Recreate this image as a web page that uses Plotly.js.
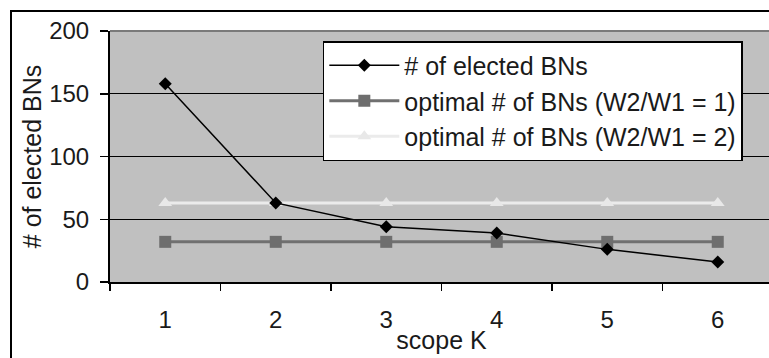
<!DOCTYPE html>
<html>
<head>
<meta charset="utf-8">
<script src="https://cdn.plot.ly/plotly-3.0.1.min.js"></script>
<style>
html,body{margin:0;padding:0;overflow:hidden;background:#fff;width:769px;height:358px;}
#chart{position:absolute;left:0;top:0;width:780px;height:358px;}
#frame{position:absolute;left:10px;top:10px;width:900px;height:500px;border-left:2px solid #000;border-top:2px solid #000;pointer-events:none;}
</style>
</head>
<body>
<div id="chart"></div>
<div id="frame"></div>
<script>
const scopeK = ['1','2','3','4','5','6'];
const electedBNs = [158, 63, 44, 39, 26, 16];
const optimalW1 = [32, 32, 32, 32, 32, 32];
const optimalW2 = [63, 63, 63, 63, 63, 63];
const seriesNames = ['# of elected BNs', 'optimal # of BNs (W2/W1 = 1)', 'optimal # of BNs (W2/W1 = 2)'];
const yTicks = [0, 50, 100, 150, 200];

const font = {family: 'Liberation Sans, Arial, sans-serif', size: 24, color: '#1a1a1a'};
const bigFont = {family: 'Liberation Sans, Arial, sans-serif', size: 25, color: '#1a1a1a'};

const traces = [
  {x: scopeK, y: electedBNs, name: seriesNames[0], legendgroup: 'a', mode: 'lines+markers',
   line: {color: '#000', width: 1.5}, marker: {symbol: 'diamond', size: 10, color: '#000'}},
  {x: scopeK, y: optimalW1, name: seriesNames[1], legendgroup: 'b', mode: 'lines+markers',
   line: {color: '#707070', width: 3}, marker: {symbol: 'square', size: 12, color: '#6e6e6e'}},
  {x: scopeK, y: optimalW2, name: seriesNames[2], legendgroup: 'c', mode: 'lines+markers',
   line: {color: '#ebebeb', width: 3}, marker: {symbol: 'triangle-up', size: 12, color: '#e8e8e8'}}
];
// draw order: light, gray, black on top
const ordered = [traces[2], traces[1], traces[0]];

const layout = {
  width: 780, height: 358,
  margin: {l: 110, r: 7, t: 31, b: 76},
  paper_bgcolor: '#fff', plot_bgcolor: '#c0c0c0',
  font: font,
  showlegend: true,
  legend: {
    x: 0.321, y: 0.96, xanchor: 'left', yanchor: 'top',
    bgcolor: '#fff', bordercolor: '#000', borderwidth: 1.5,
    font: bigFont, traceorder: 'reversed', tracegroupgap: 0, itemwidth: 70
  },
  xaxis: {
    type: 'category', range: [-0.5, 5.5], tickson: 'boundaries',
    ticks: 'outside', ticklen: 7, tickwidth: 1.5, tickcolor: '#000',
    showline: true, linecolor: '#000', linewidth: 2, showgrid: false, zeroline: false,
    ticklabelstandoff: 15,
    title: {text: 'scope K', font: bigFont, standoff: 0},
    automargin: false, fixedrange: true
  },
  yaxis: {
    range: [0, 200], tickvals: yTicks, ticktext: yTicks.map(String),
    ticks: 'outside', ticklen: 8, tickwidth: 1.5, tickcolor: '#000',
    showline: true, linecolor: '#000', linewidth: 2,
    showgrid: true, gridcolor: '#000', gridwidth: 1, zeroline: false,
    ticklabelstandoff: 6,
    title: {text: '# of elected BNs', font: bigFont, standoff: 0},
    automargin: false, fixedrange: true
  },
  shapes: [
    {type: 'line', xref: 'paper', yref: 'paper', x0: 0, x1: 1.05, y0: 1, y1: 1,
     line: {color: '#7a7a7a', width: 2}}
  ]
};

Plotly.newPlot('chart', ordered, layout, {staticPlot: true, displayModeBar: false});
</script>
</body>
</html>
